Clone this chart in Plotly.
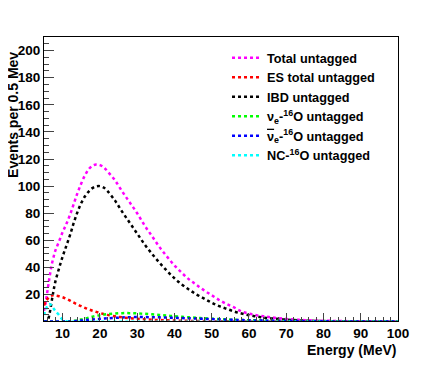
import plotly.graph_objects as go

# energy grid (MeV) and events per 0.5 MeV
energy = [5, 5.5, 6, 6.5, 7, 7.5, 8, 9, 10, 11, 12, 13, 14, 15, 16, 17, 18, 19, 20, 21,
          22, 24, 26, 28, 30, 32, 34, 36, 38, 40, 42, 44, 46, 48, 50, 52, 54, 56, 58, 60,
          62, 64, 66, 70, 75, 80, 85, 90, 95, 100]

total = [8, 15, 24, 33, 41, 47, 52, 59, 66, 72, 79, 87, 95, 102, 108, 112.5, 115, 116, 115.5, 114,
         111, 104.5, 96, 88, 80, 71, 63, 55, 48, 41.5, 36, 31, 27, 23, 19.5, 16, 13, 10.5, 7.5, 6,
         4.8, 4, 3.2, 2, 1.1, 0.7, 0.45, 0.3, 0.2, 0.1]

es = [12, 15, 17, 18.5, 19.2, 19.5, 19.3, 18.8, 18, 16.8, 15.5, 14, 12.7, 11.4, 10.2, 9.1, 8.1, 7.2, 6.4, 5.7,
      5, 4, 3.2, 2.6, 2.1, 1.7, 1.4, 1.2, 1.0, 0.85, 0.7, 0.6, 0.5, 0.4, 0.35, 0.3, 0.25, 0.2, 0.17, 0.14,
      0.12, 0.1, 0.08, 0.06, 0.04, 0.03, 0.02, 0.01, 0.01, 0]

ibd = [0, 0.2, 1, 6, 14, 22, 29, 39, 48, 56, 64, 73, 81, 87.5, 92.5, 96, 98.5, 99.8, 100, 99,
       96.5, 89.5, 81, 73, 65, 57, 50, 43.5, 37.5, 32, 27.5, 23.5, 20, 17, 14, 11.5, 9.5, 7.5, 6, 4.8,
       3.8, 3, 2.4, 1.5, 0.8, 0.45, 0.25, 0.15, 0.08, 0.05]

nue_o16 = [0, 0, 0, 0, 0, 0, 0, 0, 0, 0.1, 0.3, 0.6, 1.0, 1.6, 2.3, 3, 3.7, 4.3, 4.8, 5.2,
           5.6, 6.0, 6.3, 6.3, 6.1, 5.8, 5.4, 5.0, 4.5, 4.0, 3.6, 3.2, 2.8, 2.5, 2.2, 1.9, 1.6, 1.4, 1.2, 1.05,
           0.9, 0.8, 0.7, 0.55, 0.4, 0.3, 0.2, 0.15, 0.1, 0.08]

nuebar_o16 = [0.1, 0.1, 0.1, 0.1, 0.1, 0.1, 0.1, 0.1, 0.1, 0.1, 0.2, 0.4, 0.6, 0.8, 1.1, 1.4, 1.6, 1.9, 2.1, 2.3,
              2.5, 2.8, 3.1, 3.3, 3.4, 3.4, 3.3, 3.2, 3.0, 2.9, 2.7, 2.5, 2.3, 2.1, 1.9, 1.7, 1.5, 1.35, 1.2, 1.05,
              0.9, 0.8, 0.7, 0.5, 0.35, 0.25, 0.18, 0.12, 0.08, 0.05]

nc_o16 = [5, 9, 12, 13, 12, 10, 8, 5, 1.5, 0.3, 0, 0, 0, 0, 0, 0, 0, 0, 0, 0,
          0, 0, 0, 0, 0, 0, 0, 0, 0, 0, 0, 0, 0, 0, 0, 0, 0, 0, 0, 0,
          0, 0, 0, 0, 0, 0, 0, 0, 0, 0]

series = [
    ("Total untagged", total, "#ff00ff"),
    ("ES total untagged", es, "#ff0000"),
    ("IBD untagged", ibd, "#000000"),
    ("ν<sub>e</sub>-<sup>16</sup>O untagged", nue_o16, "#00ff00"),
    ('<span style="text-decoration:overline">ν</span><sub>e</sub>-<sup>16</sup>O untagged', nuebar_o16, "#0000ff"),
    ("NC-<sup>16</sup>O untagged", nc_o16, "#00ffff"),
]

font = dict(family="Liberation Sans, Arial, sans-serif", color="black", weight="bold")

fig = go.Figure()
for name, vals, col in series:
    fig.add_trace(go.Scatter(x=energy, y=vals, name=name, mode="lines",
                             line=dict(color=col, width=2.5, dash="dot", shape="spline")))

# page body adds an 8px offset, so the figure is 8px smaller than the window
fig.update_layout(
    template="none",
    width=434, height=366,
    margin=dict(l=36, r=44, t=29, b=53, autoexpand=False),
    paper_bgcolor="white", plot_bgcolor="white",
    font=dict(**font, size=13),
    showlegend=True,
    legend=dict(x=0.517, y=0.979, xanchor="left", yanchor="top",
                bgcolor="rgba(0,0,0,0)", font=dict(**font, size=12.7),
                itemwidth=30, tracegroupgap=0),
    xaxis=dict(range=[5, 100], tick0=0, dtick=10, ticks="inside", ticklen=8,
               showgrid=False, zeroline=False, showline=True, linecolor="black",
               linewidth=1, mirror=True, automargin=False, tickfont=dict(**font, size=13.5),
               minor=dict(dtick=2, tick0=0, ticks="inside", ticklen=4, showgrid=False)),
    yaxis=dict(range=[0.5, 210], tick0=0, dtick=20, ticks="inside", ticklen=10,
               showgrid=False, zeroline=False, showline=True, linecolor="black",
               linewidth=1, mirror=True, automargin=False, tickfont=dict(**font, size=13.5),
               minor=dict(dtick=5, tick0=0, ticks="inside", ticklen=5, showgrid=False)),
    annotations=[
        dict(text="Energy (MeV)", x=1, y=-0.102, xref="paper", yref="paper",
             xanchor="right", yanchor="middle", showarrow=False, font=dict(**font, size=14)),
        dict(text="Events per 0.5 Mev", x=-0.088, y=0.725, xref="paper", yref="paper",
             xanchor="center", yanchor="middle", textangle=-90, showarrow=False,
             font=dict(**font, size=14)),
    ],
)

fig.write_html("out.html")
